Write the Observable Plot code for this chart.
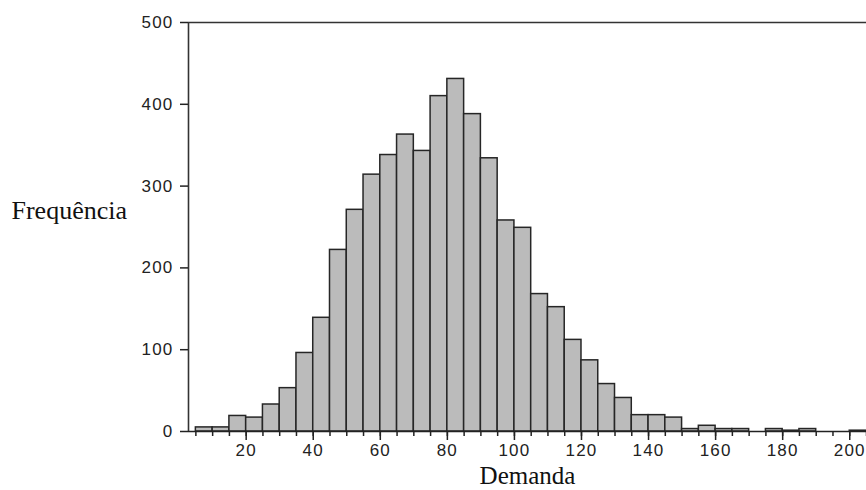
<!DOCTYPE html>
<html>
<head>
<meta charset="utf-8">
<script src="https://cdn.jsdelivr.net/npm/d3@7"></script>
<script src="https://cdn.jsdelivr.net/npm/@observablehq/plot@0.6"></script>
<style>
  html, body { margin: 0; padding: 0; background: #fff; }
  #chart svg { display: block; }
  [aria-label="x-axis tick label"] text,
  [aria-label="y-axis tick label"] text { letter-spacing: 1.2px; }
</style>
</head>
<body>
<div id="chart"></div>
<script>
// Histogram of demand: bins of width 5, starting at 5
const binWidth = 5;
const binStart = [5, 10, 15, 20, 25, 30, 35, 40, 45, 50, 55, 60, 65, 70, 75, 80, 85, 90, 95, 100,
                  105, 110, 115, 120, 125, 130, 135, 140, 145, 150, 155, 160, 165, 170, 175, 180, 185, 190, 195, 200];
const counts = [5, 5, 19, 17, 33, 53, 96, 139, 222, 271, 314, 338, 363, 343, 410, 431, 388, 334, 258, 249,
                168, 152, 112, 87, 58, 41, 20, 20, 17, 3, 7, 3, 3, 0, 3, 1, 3, 0, 0, 1];
const yTicks = [0, 100, 200, 300, 400, 500];
const xMajorTicks = [20, 40, 60, 80, 100, 120, 140, 160, 180, 200];
const xMinorTicks = d3.range(5, 206, 5);
const xDomain = [2.8, 205];

const bins = binStart.map((x0, i) => ({x0, x1: x0 + binWidth, count: counts[i]}));

const tickFont = "Liberation Sans, Arial, sans-serif";
const labelFont = "Liberation Serif, Times New Roman, serif";

const chart = Plot.plot({
  width: 866,
  height: 490,
  marginLeft: 188,
  marginRight: 0,
  marginTop: 22,
  marginBottom: 59,
  x: {domain: xDomain},
  y: {domain: [0, 500]},
  style: {background: "#fff", color: "#222"},
  marks: [
    Plot.rectY(bins, {
      filter: d => d.count > 0,
      x1: "x0", x2: "x1", y: "count",
      fill: "#bbbbbb", stroke: "#262626", strokeWidth: 1.5
    }),
    Plot.ruleY([0], {stroke: "#222", strokeWidth: 1.5}),
    Plot.ruleY([500], {stroke: "#333", strokeWidth: 1.6}),
    Plot.ruleX([xDomain[0]], {stroke: "#333", strokeWidth: 1.6}),
    Plot.axisY({ticks: yTicks, tickSize: 8, tickPadding: 7, label: null,
      fontSize: 17, fontFamily: tickFont, stroke: "#222", strokeWidth: 1.5}),
    Plot.axisX({ticks: xMinorTicks, tickSize: 5, tickFormat: () => "", label: null,
      stroke: "#222", strokeWidth: 1.5}),
    Plot.axisX({ticks: xMajorTicks, tickSize: 9, tickPadding: 3, label: null,
      fontSize: 17, fontFamily: tickFont, stroke: "#222", strokeWidth: 1.5}),
    Plot.text(["Frequência"], {
      frameAnchor: "left", textAnchor: "start", dx: -177, dy: -16,
      fontSize: 26, fontFamily: labelFont, fill: "#111"
    }),
    Plot.text(["Demanda"], {
      frameAnchor: "bottom", dy: 52,
      fontSize: 25, fontFamily: labelFont, fill: "#111"
    })
  ]
});

document.getElementById("chart").appendChild(chart);
</script>
</body>
</html>
